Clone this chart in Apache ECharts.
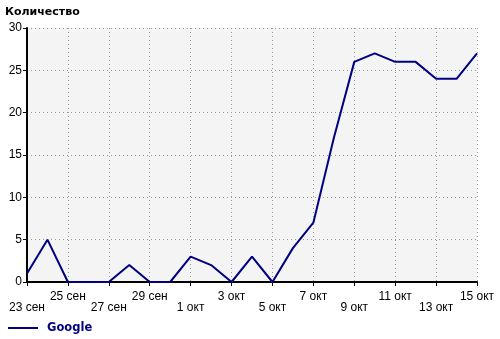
<!DOCTYPE html>
<html><head><meta charset="utf-8">
<script src="https://cdn.jsdelivr.net/npm/echarts@6/dist/echarts.min.js"></script>
<style>html,body{margin:0;padding:0;background:#fff}#c{width:500px;height:339px}</style>
</head><body><div id="c"></div>
<script>
const categories = ['23 сен','24 сен','25 сен','26 сен','27 сен','28 сен','29 сен','30 сен','1 окт','2 окт','3 окт','4 окт','5 окт','6 окт','7 окт','8 окт','9 окт','10 окт','11 окт','12 окт','13 окт','14 окт','15 окт'];
const googleValues = [1,5,0,0,0,2,0,0,3,2,0,3,0,4,7,17,26,27,26,26,24,24,27];
const yTicks = [0,5,10,15,20,25,30];
const titleText = 'Количество';
const seriesName = 'Google';

const chart = echarts.init(document.getElementById('c'), null, {renderer:'canvas'});
chart.setOption({
  animation:false,
  backgroundColor:'#fff',
  textStyle:{fontFamily:'Liberation Sans'},
  title:{text:titleText,left:0,top:2,padding:[5,5,5,5],textStyle:{fontSize:11,fontWeight:'bold',color:'#000',fontFamily:'DejaVu Sans'}},
  legend:{data:[seriesName],left:8,top:322,padding:0,itemWidth:30,itemHeight:2,icon:'rect',itemGap:10,
    textStyle:{fontSize:11.5,fontWeight:'bold',color:'#000080',fontFamily:'DejaVu Sans',padding:[0,0,0,4]}},
  grid:{left:27,right:23,top:28,bottom:57,show:true,backgroundColor:'#f4f4f4',borderWidth:0},
  xAxis:{type:'category',data:categories,boundaryGap:false,
    axisLine:{lineStyle:{color:'#000',width:2}},
    axisTick:{interval:1,length:4,lineStyle:{color:'#000'}},
    axisLabel:{interval:1,margin:9,fontSize:12,color:'#000',lineHeight:11,
      formatter:function(v,i){return i%4===0?'\n'+v:v;}},
    splitLine:{show:true,interval:1,lineStyle:{color:'#999',type:[1,3],width:1}}},
  yAxis:{type:'value',min:yTicks[0],max:yTicks[yTicks.length-1],interval:5,
    axisLine:{show:true,lineStyle:{color:'#000',width:2}},
    axisTick:{show:true,length:4,lineStyle:{color:'#000'}},
    axisLabel:{margin:5,fontSize:12,color:'#000'},
    splitLine:{show:true,lineStyle:{color:'#999',type:[1,3],width:1}}},
  series:[{name:seriesName,type:'line',data:googleValues,symbol:'none',
    lineStyle:{color:'#000080',width:2},itemStyle:{color:'#000080'}}]
});
</script></body></html>
